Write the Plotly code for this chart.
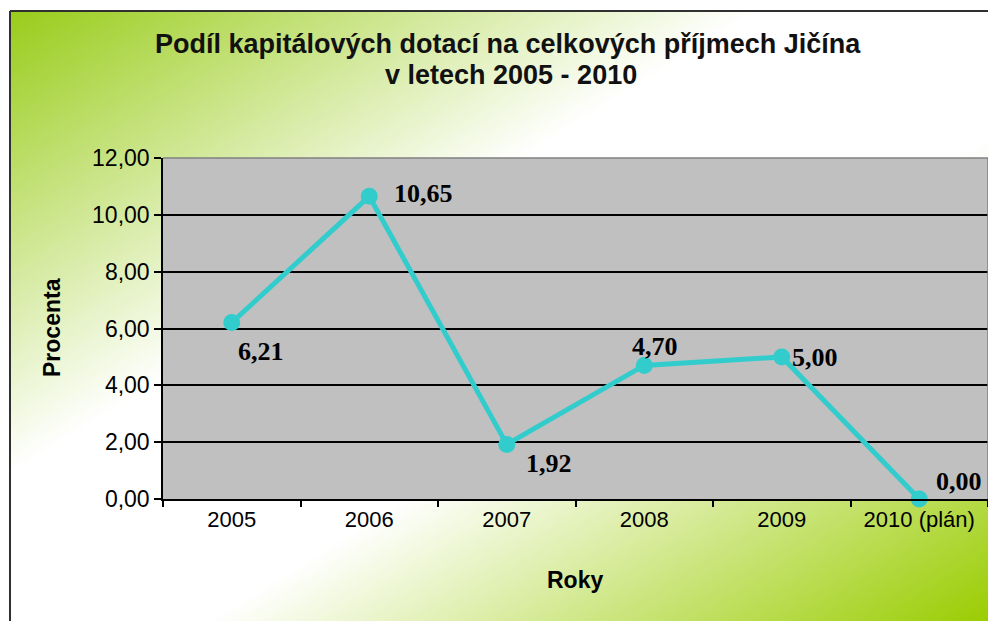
import base64
import plotly.graph_objects as go

W, H = 996, 621
OFF = 8  # the page body adds 8px, so every pixel position is moved back by it

years = ["2005", "2006", "2007", "2008", "2009", "2010 (plán)"]
podil = [6.21, 10.65, 1.92, 4.70, 5.00, 0.00]
y_ticks = [0, 2, 4, 6, 8, 10, 12]

# label centre offsets from the point, in px (right, down)
label_dx = [29, 54, 42, 11, 33, 40]
label_dy = [29, -3, 19, -19, 1, -18]

title1 = "Podíl kapitálových dotací na celkových příjmech Jičína"
title2 = "v letech 2005 - 2010"


def px(x):
    return (x - OFF) / W


def py(y):
    return 1 - (y - OFF) / H


# plot area in reference pixels
px_l, px_r, px_t, px_b = 163, 988, 158, 499

svg = (
    '<svg xmlns="http://www.w3.org/2000/svg" width="986" height="610" '
    'viewBox="0 0 986 610" preserveAspectRatio="none">'
    '<defs><linearGradient id="g" x1="0" y1="0" x2="1" y2="1">'
    '<stop offset="0" stop-color="#99cc1a"/>'
    '<stop offset="0.38" stop-color="#ffffff"/>'
    '<stop offset="0.6" stop-color="#ffffff"/>'
    '<stop offset="1" stop-color="#99cc00"/>'
    '</linearGradient></defs>'
    '<rect width="986" height="610" fill="url(#g)"/></svg>'
)
bg_src = "data:image/svg+xml;base64," + base64.b64encode(svg.encode()).decode()

fig = go.Figure()
fig.add_trace(go.Scatter(
    x=years, y=podil,
    mode="lines+markers",
    line=dict(color="#33cccc", width=5),
    marker=dict(size=17, color="#33cccc"),
    cliponaxis=False,
    showlegend=False,
))

labels = []
for i, v in enumerate(podil):
    labels.append(dict(
        x=i, y=v, xref="x", yref="y", text=f"{v:.2f}".replace(".", ","),
        showarrow=False, xanchor="center", yanchor="middle",
        xshift=label_dx[i], yshift=-label_dy[i],
        font=dict(family="Liberation Serif, Times New Roman", size=26, color="black", weight="bold"),
    ))

fig.update_layout(
    width=W, height=H,
    margin=dict(l=0, r=0, t=0, b=0, autoexpand=False),
    paper_bgcolor="white",
    plot_bgcolor="#c0c0c0",
    separators=", ",
    font=dict(family="Liberation Sans, Arial", size=22, color="black"),
    xaxis=dict(
        domain=[px(px_l), px(px_r)],
        type="category",
        categoryorder="array", categoryarray=years,
        range=[-0.5, len(years) - 0.5],
        automargin=False,
        tickson="boundaries",
        tickangle=0,
        ticks="outside", ticklen=6, tickcolor="black", tickwidth=1.5,
        showline=True, linecolor="black", linewidth=1.5,
        showgrid=False,
        tickfont=dict(size=22),
    ),
    yaxis=dict(
        domain=[py(px_b), py(px_t)],
        range=[0, 12],
        automargin=False,
        tickvals=y_ticks,
        tickformat=".2f",
        ticksuffix="\u00a0",
        ticks="outside", ticklen=7, tickcolor="black", tickwidth=1.5,
        showline=True, linecolor="black", linewidth=1.5,
        showgrid=True, gridcolor="black", gridwidth=1.5,
        zeroline=False,
        tickfont=dict(size=23),
    ),
    images=[dict(
        source=bg_src, xref="paper", yref="paper",
        x=px(10), y=py(11), sizex=986 / W, sizey=610 / H,
        xanchor="left", yanchor="top", sizing="stretch", layer="below",
    )],
    shapes=[
        # grey plot area, drawn over the gradient image
        dict(type="rect", xref="paper", yref="paper", layer="below",
             x0=px(px_l), x1=px(px_r), y0=py(px_b), y1=py(px_t),
             fillcolor="#c0c0c0", line=dict(width=0)),
        dict(type="line", xref="paper", yref="paper", x0=px(10), x1=1, y0=py(11), y1=py(11),
             line=dict(color="#303030", width=2)),
        dict(type="line", xref="paper", yref="paper", x0=px(10), x1=px(10), y0=0, y1=py(11),
             line=dict(color="#303030", width=2)),
        dict(type="line", xref="paper", yref="paper", x0=px(px_l), x1=px(px_r), y0=py(px_t), y1=py(px_t),
             line=dict(color="#808080", width=1.5)),
        dict(type="line", xref="paper", yref="paper", x0=px(px_r), x1=px(px_r), y0=py(px_t), y1=py(px_b),
             line=dict(color="#808080", width=1.5)),
    ],
    annotations=labels + [
        dict(text=title1, x=px(508), y=py(44), xref="paper", yref="paper",
             xanchor="center", yanchor="middle", showarrow=False,
             font=dict(size=27, weight="bold", color="#111111")),
        dict(text=title2, x=px(511), y=py(75), xref="paper", yref="paper",
             xanchor="center", yanchor="middle", showarrow=False,
             font=dict(size=27, weight="bold", color="#111111")),
        dict(text="Procenta", x=px(52), y=py(328), xref="paper", yref="paper",
             textangle=-90, xanchor="center", yanchor="middle", showarrow=False,
             font=dict(size=23, weight="bold")),
        dict(text="Roky", x=px(575), y=py(580), xref="paper", yref="paper",
             xanchor="center", yanchor="middle", showarrow=False,
             font=dict(size=23, weight="bold")),
    ],
)

fig.write_html("out.html")
